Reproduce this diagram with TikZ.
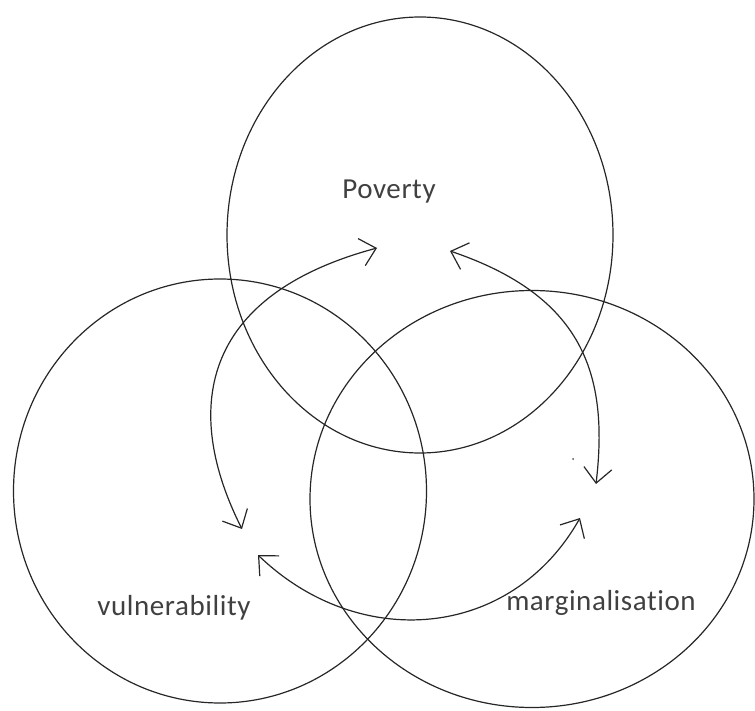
\documentclass[tikz,border=0pt]{standalone}
\usepackage{fontspec}
\setmainfont{Carlito}[Ligatures=NoCommon,LetterSpace=2]
\usetikzlibrary{arrows.meta,shapes.geometric}
\begin{document}
\begin{tikzpicture}[x=1pt,y=-1pt,
  ring/.style={draw=black!85, line width=1.2pt, ellipse, inner sep=0pt},
  label/.style={text=black!75, font=\fontsize{29}{34}\selectfont, anchor=base, inner sep=0pt},
  loop/.style={draw=black!85, line width=1.2pt,
    {Straight Barb[length=15pt,width=28pt,line width=1.2pt]}-{Straight Barb[length=15pt,width=28pt,line width=1.2pt]}}]
\useasboundingbox (0,0) rectangle (755,711);

% the three overlapping sets
\node[ring, minimum width=386pt, minimum height=436pt] (poverty) at (420,235) {};
\node[ring, minimum width=413pt, minimum height=424pt] (vuln) at (220,491) {};
\node[ring, minimum width=444pt, minimum height=417pt] (marg) at (532,499) {};

% set names
\node[label] (tpov) at (389,199) {Poverty};
\node[label] (tvul) at (174,615) {vulnerability};
\node[label] (tmar) at (601,610) {marginalisation};

% ends of the two-way links
\coordinate (a1) at (377,248);
\coordinate (a2) at (242,529);
\coordinate (b1) at (450,251);
\coordinate (b2) at (596,484);
\coordinate (c1) at (258,555);
\coordinate (c2) at (580,518);

% two-way links between the sets
\draw[loop] (a1) .. controls (198,296) and (183,412) .. (a2);
\draw[loop] (b1) .. controls (583,296) and (609,374) .. (b2);
\draw[loop] (c1) .. controls (359,652) and (511,640) .. (c2);

% stray speck
\fill[black!70] (573,459) circle (1pt);
\end{tikzpicture}
\end{document}
